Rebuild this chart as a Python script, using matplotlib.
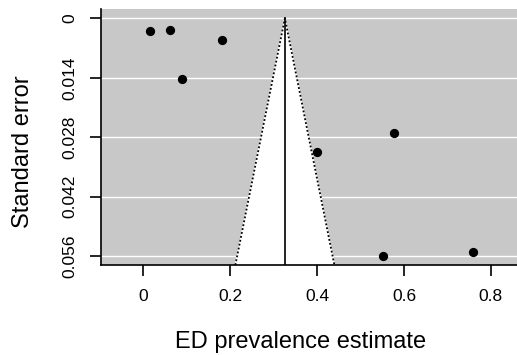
import numpy as np
import matplotlib.pyplot as plt

plt.rcParams['font.family'] = ['Liberation Sans', 'DejaVu Sans']

# study estimates and their standard errors
estimate = [0.015, 0.062, 0.182, 0.090, 0.577, 0.401, 0.551, 0.759]
std_err = [0.0030, 0.0027, 0.0051, 0.0142, 0.0271, 0.0315, 0.0560, 0.0550]
pooled = 0.326

x_ticks = [0, 0.2, 0.4, 0.6, 0.8]
x_labels = ["0", "0.2", "0.4", "0.6", "0.8"]
y_ticks = [0, 0.014, 0.028, 0.042, 0.056]
y_labels = ["0", "0.014", "0.028", "0.042", "0.056"]

W, H = 517, 355
fig = plt.figure(figsize=(W / 100, H / 100), dpi=100)
ax = fig.add_axes([101 / W, 1 - 265 / H, 1 - 101 / W, (265 - 9) / H])

y_max = 0.0581
ax.set_xlim(-0.097, 0.86)
ax.set_ylim(y_max, -0.0022)
ax.set_facecolor('#c8c8c8')

# white funnel region (95% pseudo confidence)
half = 1.96 * y_max
ax.fill([pooled - half, pooled, pooled + half], [y_max, 0, y_max],
        color='white', zorder=1)
for y in y_ticks:
    ax.axhline(y, color='white', lw=1, zorder=0.5)
ax.plot([pooled - half, pooled, pooled + half], [y_max, 0, y_max],
        color='black', ls=(0, (1, 1.2)), lw=1.3, zorder=2)
ax.plot([pooled, pooled], [0, y_max], color='black', lw=1.2, zorder=2)

ax.scatter(estimate, std_err, s=32, color='black', zorder=3)

for side in ['top', 'right']:
    ax.spines[side].set_visible(False)
ax.spines['left'].set_linewidth(1.2)
ax.spines['bottom'].set_linewidth(1.2)

ax.set_xticks(x_ticks)
ax.set_xticklabels(x_labels, fontsize=12.5)
ax.set_yticks(y_ticks)
ax.set_yticklabels(y_labels, fontsize=12.5, rotation=90, va='center')
ax.tick_params(direction='out', length=8, width=1.2, pad=9, colors='black')

ax.set_xlabel("ED prevalence estimate", fontsize=17)
ax.set_ylabel("Standard error", fontsize=17)
# label centres as placed in the reference (pixels -> axes coords)
ax.xaxis.set_label_coords((301 - 101) / (W - 101), -(342 - 265) / 256)
ax.yaxis.set_label_coords(-(101 - 23) / (W - 101), (265 - 152) / 256)
ax.xaxis.label.set_va('center')
ax.yaxis.label.set_va('center')

fig.savefig("out.png", dpi=100)
